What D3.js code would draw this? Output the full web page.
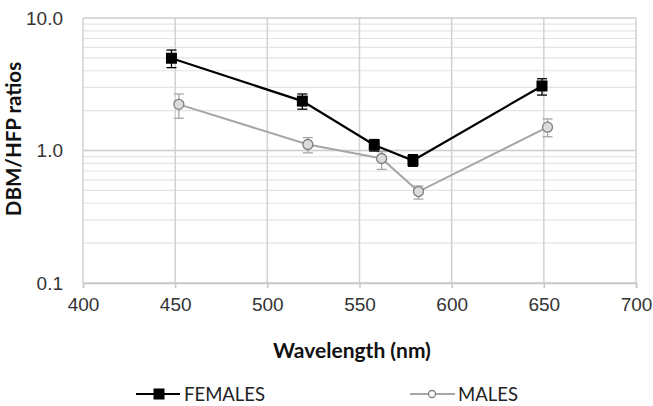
<!DOCTYPE html>
<html>
<head>
<meta charset="utf-8">
<script src="https://cdn.jsdelivr.net/npm/d3@7"></script>
<style>
  html, body { margin: 0; padding: 0; background: #fff; }
  svg { display: block; font-family: Lato, "Open Sans", sans-serif; }
</style>
</head>
<body>
<svg id="chart" width="653" height="406"></svg>
<script>
// Wavelengths (nm) of each measurement, per group
const femaleWavelengths = [448, 519, 558, 579, 649];
const maleWavelengths   = [452, 522, 562, 582, 652];

// DBM/HFP ratios with lower / upper error bounds
const femaleRatios = [4.97, 2.36, 1.10, 0.84, 3.07];
const femaleLow    = [4.22, 2.05, 0.99, 0.76, 2.62];
const femaleHigh   = [5.73, 2.67, 1.21, 0.93, 3.48];

const maleRatios = [2.23, 1.11, 0.87, 0.49, 1.50];
const maleLow    = [1.75, 0.96, 0.72, 0.43, 1.27];
const maleHigh   = [2.67, 1.25, 0.98, 0.54, 1.73];

const xTicks = [400, 450, 500, 550, 600, 650, 700];
const yTicks = [0.1, 1, 10];
const yTickLabels = ["0.1", "1.0", "10.0"];

const seriesNames = ["FEMALES", "MALES"];

const svg = d3.select("#chart");
const plot = { left: 83, right: 636, top: 18, bottom: 283 };

const x = d3.scaleLinear().domain([400, 700]).range([plot.left, plot.right]);
const y = d3.scaleLog().domain([0.1, 10]).range([plot.bottom, plot.top]);

// minor grid: 2..9 within each decade
const minorVals = [];
[0.1, 1].forEach(d => { for (let k = 2; k <= 9; k++) minorVals.push(d * k); });

const grid = svg.append("g");
grid.selectAll("line.minor").data(minorVals).join("line")
  .attr("x1", plot.left).attr("x2", plot.right)
  .attr("y1", d => y(d)).attr("y2", d => y(d))
  .attr("stroke", "#e4e4e4").attr("stroke-width", 1.2);
grid.selectAll("line.major").data(yTicks).join("line")
  .attr("x1", plot.left).attr("x2", plot.right)
  .attr("y1", d => y(d)).attr("y2", d => y(d))
  .attr("stroke", "#cccccc").attr("stroke-width", 1.6);
grid.selectAll("line.vert").data(xTicks).join("line")
  .attr("x1", d => x(d)).attr("x2", d => x(d))
  .attr("y1", plot.top).attr("y2", plot.bottom)
  .attr("stroke", "#d2d2d2").attr("stroke-width", 1.5);

// x axis with small ticks below the plot
const xAxis = d3.axisBottom(x).tickValues(xTicks).tickSize(5).tickPadding(10)
  .tickFormat(d3.format("d"));
const gx = svg.append("g").attr("transform", `translate(0,${plot.bottom})`).call(xAxis);
gx.select(".domain").attr("stroke", "#c8c8c8").attr("stroke-width", 1.5);
gx.selectAll(".tick line").attr("stroke", "#c8c8c8").attr("stroke-width", 1.5);
gx.selectAll(".tick text").attr("fill", "#333").attr("font-size", 19);

// y axis labels
const yAxis = d3.axisLeft(y).tickValues(yTicks).tickSize(0).tickPadding(20)
  .tickFormat((d, i) => yTickLabels[i]);
const gy = svg.append("g").attr("transform", `translate(${plot.left},0)`).call(yAxis);
gy.select(".domain").remove();
gy.selectAll(".tick text").attr("fill", "#333").attr("font-size", 19);

// axis titles
svg.append("text")
  .attr("x", 352).attr("y", 358)
  .attr("text-anchor", "middle").attr("font-weight", "bold").attr("font-size", 21)
  .attr("fill", "#111").text("Wavelength (nm)");
svg.append("text")
  .attr("transform", "translate(21,139) rotate(-90)")
  .attr("text-anchor", "middle").attr("font-weight", "bold").attr("font-size", 20.5)
  .attr("fill", "#111").text("DBM/HFP ratios");

function drawSeries(xs, vals, lo, hi, color, lineW, marker) {
  const pts = xs.map((w, i) => ({ w, v: vals[i], lo: lo[i], hi: hi[i] }));
  const g = svg.append("g");
  g.append("path").datum(pts)
    .attr("fill", "none").attr("stroke", color).attr("stroke-width", lineW)
    .attr("d", d3.line().x(d => x(d.w)).y(d => y(d.v)));
  const eb = g.selectAll("g.err").data(pts).join("g").attr("stroke", color).attr("stroke-width", 1.3);
  eb.append("line").attr("x1", d => x(d.w)).attr("x2", d => x(d.w))
    .attr("y1", d => y(d.lo)).attr("y2", d => y(d.hi));
  eb.append("line").attr("x1", d => x(d.w) - 5).attr("x2", d => x(d.w) + 5)
    .attr("y1", d => y(d.lo)).attr("y2", d => y(d.lo));
  eb.append("line").attr("x1", d => x(d.w) - 5).attr("x2", d => x(d.w) + 5)
    .attr("y1", d => y(d.hi)).attr("y2", d => y(d.hi));
  if (marker === "square") {
    g.selectAll("rect").data(pts).join("rect")
      .attr("x", d => x(d.w) - 5.5).attr("y", d => y(d.v) - 5.5)
      .attr("width", 11).attr("height", 11).attr("fill", "#000");
  } else {
    g.selectAll("circle").data(pts).join("circle")
      .attr("cx", d => x(d.w)).attr("cy", d => y(d.v)).attr("r", 5)
      .attr("fill", "#dcdcdc").attr("stroke", "#7f7f7f").attr("stroke-width", 1.3);
  }
}

drawSeries(maleWavelengths, maleRatios, maleLow, maleHigh, "#a6a6a6", 2, "circle");
drawSeries(femaleWavelengths, femaleRatios, femaleLow, femaleHigh, "#000", 2.2, "square");

// legend
const lg = svg.append("g");
lg.append("line").attr("x1", 136).attr("x2", 180).attr("y1", 394).attr("y2", 394)
  .attr("stroke", "#000").attr("stroke-width", 2.2);
lg.append("rect").attr("x", 153.5).attr("y", 388.5).attr("width", 11).attr("height", 11).attr("fill", "#000");
lg.append("text").attr("x", 184).attr("y", 401).attr("font-size", 18.5).attr("fill", "#222")
  .text(seriesNames[0]);
lg.append("line").attr("x1", 410).attr("x2", 455).attr("y1", 394).attr("y2", 394)
  .attr("stroke", "#a6a6a6").attr("stroke-width", 2);
lg.append("circle").attr("cx", 432).attr("cy", 394).attr("r", 3.5)
  .attr("fill", "#fff").attr("stroke", "#7f7f7f").attr("stroke-width", 1.3);
lg.append("text").attr("x", 458).attr("y", 401).attr("font-size", 18.5).attr("fill", "#222")
  .text(seriesNames[1]);
</script>
</body>
</html>
